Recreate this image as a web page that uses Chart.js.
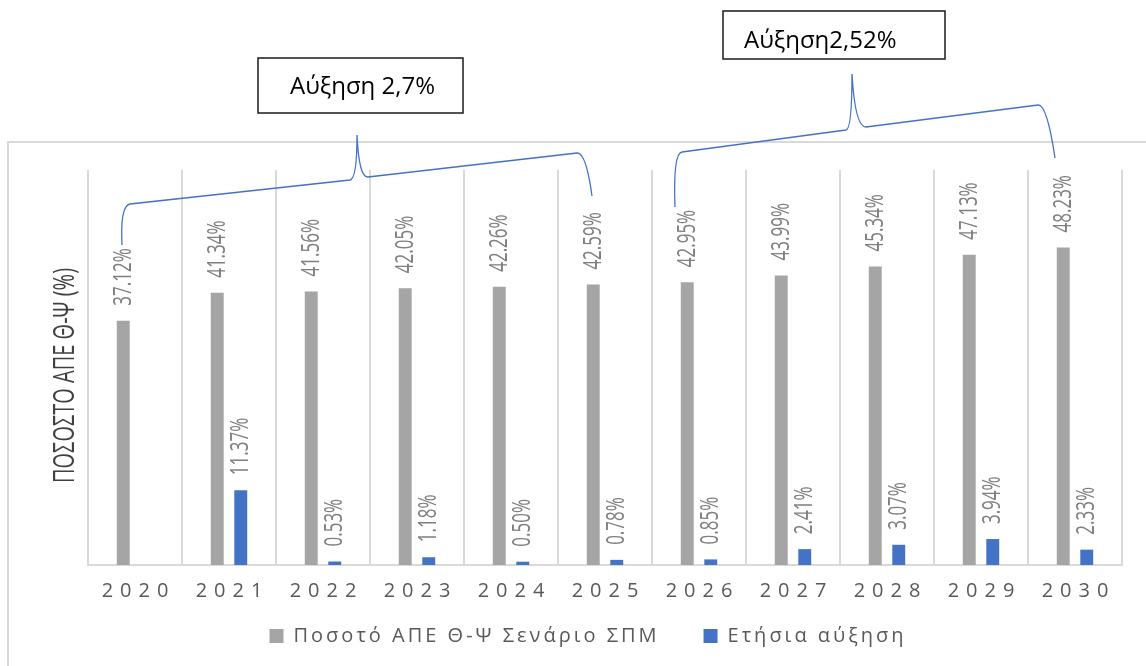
<!DOCTYPE html>
<html>
<head>
<meta charset="utf-8">
<script src="https://cdn.jsdelivr.net/npm/chart.js@4.4.1/dist/chart.umd.min.js"></script>
<style>
  html, body { margin: 0; padding: 0; background: #fff; }
  canvas { display: block; }
</style>
</head>
<body>
<canvas id="ape_chart" width="1146" height="666"></canvas>
<script>
// data
var years = ['2020', '2021', '2022', '2023', '2024', '2025', '2026', '2027', '2028', '2029', '2030'];
var apeShare = [37.12, 41.34, 41.56, 42.05, 42.26, 42.59, 42.95, 43.99, 45.34, 47.13, 48.23];
var yearlyGrowth = [null, 11.37, 0.53, 1.18, 0.50, 0.78, 0.85, 2.41, 3.07, 3.94, 2.33];
var seriesNames = ['Ποσοτό ΑΠΕ Θ-Ψ Σενάριο ΣΠΜ', 'Ετήσια αύξηση'];
var yTitle = 'ΠΟΣΟΣΤΟ ΑΠΕ Θ-Ψ (%)';
var notes = ['Αύξηση 2,7%', 'Αύξηση2,52%'];

var GREY = '#A5A5A5';
var BLUE = '#4472C4';
var FONT = "'Open Sans', 'Noto Sans', sans-serif";

Chart.defaults.font.family = FONT;

// category axis with spaced-out digits, like the excel style
class SpacedCategoryScale extends Chart.CategoryScale {
    _computeLabelArea() {
        // no clipping, the axis box is kept short on purpose
        return undefined;
    }
    drawLabels(area) {
        var ctx = this.ctx;
        ctx.save();
        ctx.letterSpacing = '7px';
        ctx.translate(3.5, 0);
        super.drawLabels(area);
        ctx.restore();
    }
}
SpacedCategoryScale.id = 'spacedCategory';
SpacedCategoryScale.defaults = Chart.CategoryScale.defaults;
Chart.register(SpacedCategoryScale);

// the picture is stretched sideways, so the rotated text looks narrow
var STRETCH = 1.5;

var framePlugin = {
    id: 'frame',
    beforeUpdate: function(chart) {
        chart.ctx.letterSpacing = '3px';
    },
    afterLayout: function(chart) {
        // legend sits a bit left of the plot centre
        chart.legend.left -= 17;
        chart.legend.right -= 17;
    },
    beforeDraw: function(chart) {
        var ctx = chart.ctx;
        ctx.save();
        ctx.fillStyle = '#fff';
        ctx.fillRect(0, 0, chart.width, chart.height);
        ctx.strokeStyle = '#d9d9d9';
        ctx.lineWidth = 2;
        ctx.strokeRect(8, 142, chart.width + 40, chart.height);
        ctx.restore();
        ctx.letterSpacing = '3px';
    }
};

var barLabels = {
    id: 'barLabels',
    afterDatasetsDraw: function(chart) {
        var ctx = chart.ctx;
        ctx.save();
        ctx.letterSpacing = '0px';
        ctx.font = '17px ' + FONT;
        ctx.fillStyle = '#7f7f7f';
        ctx.textAlign = 'left';
        ctx.textBaseline = 'middle';
        chart.data.datasets.forEach(function(ds, i) {
            chart.getDatasetMeta(i).data.forEach(function(bar, j) {
                var v = ds.data[j];
                if (v == null) return;
                ctx.save();
                ctx.translate(bar.x, bar.y - 15);
                ctx.rotate(-Math.PI / 2);
                ctx.scale(1, STRETCH);
                ctx.fillText(v.toFixed(2) + '%', 0, 0);
                ctx.restore();
            });
        });

        // y axis title
        var area = chart.chartArea;
        ctx.save();
        ctx.font = '20px ' + FONT;
        ctx.fillStyle = '#404040';
        ctx.textAlign = 'center';
        ctx.translate(65, (area.top + area.bottom) / 2 + 8);
        ctx.rotate(-Math.PI / 2);
        ctx.scale(1, STRETCH);
        ctx.fillText(yTitle, 0, 0);
        ctx.restore();
        ctx.restore();
    }
};

function drawBrace(ctx, p) {
    ctx.beginPath();
    ctx.moveTo(p[0], p[1]);
    ctx.quadraticCurveTo(p[2], p[3], p[4], p[5]);
    ctx.lineTo(p[6], p[7]);
    ctx.quadraticCurveTo(p[8], p[9], p[10], p[11]);
    ctx.quadraticCurveTo(p[12], p[13], p[14], p[15]);
    ctx.lineTo(p[16], p[17]);
    ctx.quadraticCurveTo(p[18], p[19], p[20], p[21]);
    ctx.stroke();
}

function drawNote(ctx, x, y, w, h, text, tx, ty) {
    ctx.fillStyle = '#fff';
    ctx.fillRect(x, y, w, h);
    ctx.strokeStyle = '#1a1a1a';
    ctx.lineWidth = 1.5;
    ctx.strokeRect(x, y, w, h);
    ctx.fillStyle = '#000';
    ctx.textAlign = 'left';
    ctx.textBaseline = 'alphabetic';
    ctx.fillText(text, tx, ty);
}

var notesPlugin = {
    id: 'notes',
    afterDraw: function(chart) {
        var ctx = chart.ctx;
        ctx.save();
        ctx.letterSpacing = '0px';
        ctx.strokeStyle = BLUE;
        ctx.lineWidth = 1.3;
        drawBrace(ctx, [122, 245, 120, 206, 130, 204, 350, 180, 357, 179, 357, 135,
                        359, 178, 368, 177, 577, 153, 586, 152, 592, 196]);
        drawBrace(ctx, [675, 207, 673, 153, 682, 152, 846, 130, 852, 129, 852, 74,
                        855, 127, 866, 127, 1038, 105, 1047, 104, 1055, 158]);
        ctx.font = '24px ' + FONT;
        drawNote(ctx, 258, 58, 205, 55, notes[0], 290, 94);
        drawNote(ctx, 723, 11, 222, 48, notes[1], 744, 48);
        ctx.restore();
    }
};

var chart = new Chart(document.getElementById('ape_chart'), {
    type: 'bar',
    data: {
        labels: years,
        datasets: [{
            label: seriesNames[0],
            data: apeShare,
            backgroundColor: GREY,
            categoryPercentage: 0.5,
            barPercentage: 0.55
        }, {
            label: seriesNames[1],
            data: yearlyGrowth,
            backgroundColor: BLUE,
            categoryPercentage: 0.5,
            barPercentage: 0.55
        }]
    },
    options: {
        responsive: false,
        animation: false,
        layout: {
            padding: { top: 170, left: 88, right: 24, bottom: 10 }
        },
        scales: {
            x: {
                type: 'spacedCategory',
                offset: true,
                grid: {
                    offset: true,
                    color: '#d9d9d9',
                    lineWidth: 2,
                    drawTicks: false
                },
                border: { color: '#d9d9d9', width: 2 },
                ticks: {
                    color: '#595959',
                    font: { size: 20 },
                    padding: 14,
                    maxRotation: 0
                },
                afterFit: function(scale) {
                    scale.height = 17;
                }
            },
            y: {
                display: false,
                min: 0,
                max: 60
            }
        },
        plugins: {
            legend: {
                position: 'bottom',
                labels: {
                    color: '#595959',
                    font: { size: 20 },
                    boxWidth: 14,
                    boxHeight: 14,
                    padding: 44
                }
            },
            tooltip: { enabled: false }
        }
    },
    plugins: [framePlugin, barLabels, notesPlugin]
});
</script>
</body>
</html>
